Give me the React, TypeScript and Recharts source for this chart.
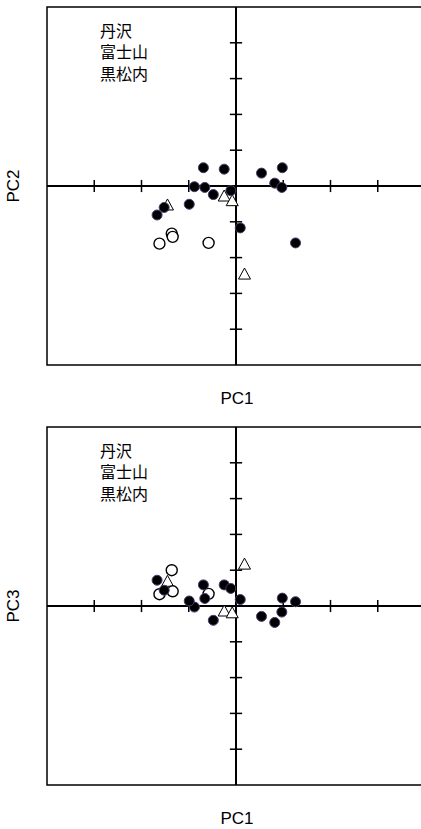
import React from 'react';
import { ScatterChart, Scatter, XAxis, YAxis, ReferenceLine, ReferenceArea } from 'recharts';

// PCA scores (units of one tick step)
const tanzawaPC1 = [-0.69, -0.25, 0.54, 0.98, -0.88, -0.66, -0.48, -0.11, 0.82, 0.97, -0.99, -1.52, -1.67, 0.09, 1.26];
const tanzawaPC2 = [0.51, 0.47, 0.36, 0.51, -0.02, -0.04, -0.24, -0.13, 0.08, -0.04, -0.51, -0.6, -0.81, -1.17, -1.59];
const tanzawaPC3 = [0.59, 0.59, -0.29, 0.22, -0.03, 0.21, -0.4, 0.49, -0.46, -0.17, 0.14, 0.44, 0.72, 0.18, 0.12];

const fujiPC1 = [-1.62, -1.36, -1.34, -0.58];
const fujiPC2 = [-1.61, -1.33, -1.42, -1.59];
const fujiPC3 = [0.33, 1.0, 0.41, 0.34];

const kuroPC1 = [-1.45, -0.25, -0.08, 0.18];
const kuroPC2 = [-0.53, -0.28, -0.41, -2.46];
const kuroPC3 = [0.69, -0.14, -0.19, 1.17];

const legendNames = ['丹沢', '富士山', '黒松内'];

const xTicks = [-3, -2, -1, 1, 2, 3, 4];
const yTicks = [-4, -3, -2, -1, 1, 2, 3, 4];
const xDomain = [-4, 4];
const yDomain = [-5, 5];

const W = 440;
const H = 420;

const pts = (xs: number[], ys: number[]) => xs.map((x, i) => ({ x, y: ys[i] }));

const FilledDot = (p: any) => (
  <circle cx={p.cx} cy={p.cy} r={5} fill="#000" stroke="#4a3a72" strokeWidth={1} />
);
const OpenDot = (p: any) => (
  <circle cx={p.cx} cy={p.cy} r={5.5} fill="#fff" stroke="#000" strokeWidth={1.4} />
);
const Tri = (p: any) => (
  <path
    d={`M${p.cx},${p.cy - 6} L${p.cx + 6},${p.cy + 5} L${p.cx - 6},${p.cy + 5} Z`}
    fill="#fff"
    stroke="#000"
    strokeWidth={1}
  />
);

const font = '"Liberation Sans", Arial, "Noto Sans CJK JP", sans-serif';

const Panel = ({ yLabel, ys }: { yLabel: string; ys: [number[], number[], number[]] }) => (
  <div style={{ position: 'relative', width: W, height: H }}>
    <ScatterChart width={W} height={H} margin={{ top: 7, left: 47, right: W - 425, bottom: H - 365 }}>
      <XAxis type="number" dataKey="x" domain={xDomain} hide allowDataOverflow />
      <YAxis type="number" dataKey="y" domain={yDomain} hide allowDataOverflow />
      <ReferenceArea x1={-4} x2={4} y1={-5} y2={5} fill="none" stroke="#000" strokeWidth={1.5} fillOpacity={0} />
      <ReferenceLine x={0} stroke="#000" strokeWidth={2} />
      <ReferenceLine y={0} stroke="#000" strokeWidth={2} />
      {xTicks.map((t) => (
        <ReferenceLine key={'xt' + t} segment={[{ x: t, y: -0.17 }, { x: t, y: 0.17 }]} stroke="#000" strokeWidth={1.5} />
      ))}
      {yTicks.map((t) => (
        <ReferenceLine key={'yt' + t} segment={[{ x: -0.13, y: t }, { x: 0.13, y: t }]} stroke="#000" strokeWidth={1.5} />
      ))}
      <Scatter name={legendNames[2]} data={pts(kuroPC1, ys[2])} shape={Tri} isAnimationActive={false} />
      <Scatter name={legendNames[1]} data={pts(fujiPC1, ys[1])} shape={OpenDot} isAnimationActive={false} />
      <Scatter name={legendNames[0]} data={pts(tanzawaPC1, ys[0])} shape={FilledDot} isAnimationActive={false} />
    </ScatterChart>
    {legendNames.map((n, i) => (
      <div
        key={n}
        style={{ position: 'absolute', left: 100, top: 21.5 + i * 21.5, fontFamily: font, fontSize: 16, lineHeight: '20px', color: '#000' }}
      >
        {n}
      </div>
    ))}
    <div
      style={{ position: 'absolute', left: 207, top: 389, width: 60, textAlign: 'center', fontFamily: font, fontSize: 17, lineHeight: '20px' }}
    >
      PC1
    </div>
    <div
      style={{
        position: 'absolute',
        left: -16,
        top: 176,
        width: 60,
        textAlign: 'center',
        fontFamily: font,
        fontSize: 17,
        lineHeight: '20px',
        transform: 'rotate(-90deg)',
      }}
    >
      {yLabel}
    </div>
  </div>
);

export default function App() {
  return (
    <div style={{ position: 'absolute', left: 0, top: 0, width: 421, overflow: 'hidden' }}>
      <Panel yLabel="PC2" ys={[tanzawaPC2, fujiPC2, kuroPC2]} />
      <Panel yLabel="PC3" ys={[tanzawaPC3, fujiPC3, kuroPC3]} />
    </div>
  );
}
